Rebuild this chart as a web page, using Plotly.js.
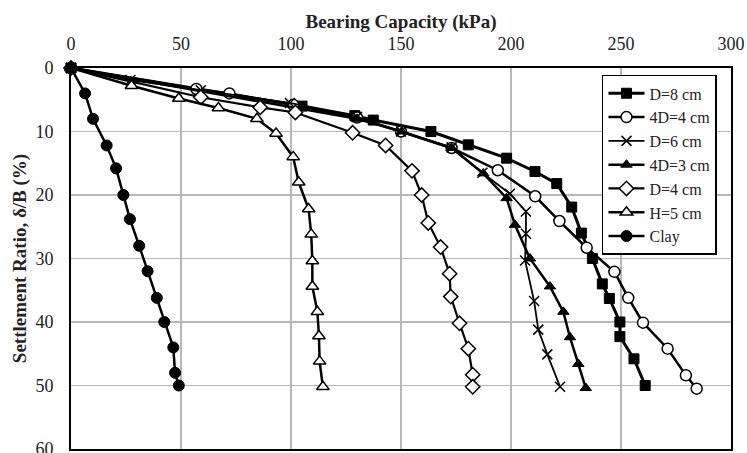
<!DOCTYPE html>
<html>
<head>
<meta charset="utf-8">
<script src="https://cdn.plot.ly/plotly-3.0.1.min.js"></script>
<style>html,body{margin:0;padding:0;background:#fff;}#chart{width:747px;height:453px;}</style>
</head>
<body>
<div id="chart"></div>
<script>
// Bearing capacity (kPa) vs settlement ratio (%)
const d8_x  = [0,105,129,137.4,163.6,180.6,198,210.9,220.8,227.6,232,237,241.5,244.7,249.5,249.5,255.9,261];
const d8_y  = [0,6,7.5,8.2,10,12.1,14.2,16.3,18.2,21.9,26,30,34,36.3,40,42.3,45.8,50];

const d4d4_x = [0,57,72,101,130,150,173,194,211,222,234.4,247,253.3,260,271.2,279.5,284.4];
const d4d4_y = [0,3.3,4,5.8,7.8,10,12.6,16.1,20.2,24.1,28.3,32.1,36.2,40.1,44.2,48.4,50.5];

const d6_x  = [0,27,59,99.5,130,150,173,187,199.5,206.8,206.8,206.4,210.5,212.4,216.5,222.3];
const d6_y  = [0,1.9,3.5,5.5,7.7,10,12.5,16.5,19.8,22.6,26.1,30.3,36.7,41.2,45.1,50.2];

const d4d3_x = [0,130,150.3,173,187.4,198,201.8,208.6,217.7,223.8,226.8,230.6,234];
const d4d3_y = [0,8,10,12.6,16.6,20.5,24.7,30,34.4,38.4,42.4,46.6,50.4];

const d4_x  = [0,59,86,102,128,143,155,159.4,162.4,168,172.1,172.6,176.6,180.6,182.6,182.6];
const d4_y  = [0,4.6,6.2,7,10.2,12.2,16.2,20,24.4,28.2,32.4,36,40.2,44.2,48.3,50.2];

const h5_x  = [0,27.5,49,67,84.5,93.2,101,103.5,108,109.2,109.7,109.7,112,112.7,113,114.5];
const h5_y  = [0,2.8,4.8,6.3,8,10.3,14,18,22.2,26.2,30.4,34.4,38.4,42.2,46.2,50.2];

const clay_x = [0,6.4,10,16.2,20.5,23.8,26.8,31,34.8,39,42.4,46.5,47.3,49];
const clay_y = [0,4,8,12.2,15.8,20,23.8,28,32,36.2,40,44,48,50];

const names = ['D=8 cm','4D=4 cm','D=6 cm','4D=3 cm','D=4 cm','H=5 cm','Clay'];
const xs = [d8_x, d4d4_x, d6_x, d4d3_x, d4_x, h5_x, clay_x];
const ys = [d8_y, d4d4_y, d6_y, d4d3_y, d4_y, h5_y, clay_y];
const markers = [
  {symbol:'square', size:10, color:'#000', line:{color:'#000', width:1}},
  {symbol:'circle', size:11, color:'#fff', line:{color:'#000', width:1.5}},
  {symbol:'x-thin', size:10, color:'#000', line:{color:'#000', width:1.5}},
  {symbol:'triangle-up', size:10, color:'#000', line:{color:'#000', width:1}},
  {symbol:'diamond', size:11, color:'#fff', line:{color:'#000', width:1.5}},
  {symbol:'triangle-up', size:11, color:'#fff', line:{color:'#000', width:1.5}},
  {symbol:'circle', size:11, color:'#000', line:{color:'#000', width:1}}
];
const widths = [3, 2.5, 1.8, 2.5, 2.2, 2.5, 2.5];

const traces = names.map((n,i)=>({
  x: xs[i], y: ys[i], name: n, type:'scatter', mode:'lines+markers',
  line:{color:'#000', width:widths[i]}, marker: markers[i], cliponaxis:false
}));

const fam = '"Liberation Serif", "Times New Roman", serif';

const layout = {
  width:747, height:453,
  margin:{l:71, r:16, t:68, b:4},
  paper_bgcolor:'#fff', plot_bgcolor:'#fff',
  font:{family:fam, size:18, color:'#222'},
  showlegend:true,
  legend:{x:0.8045, y:0.982, xanchor:'left', yanchor:'top',
          bgcolor:'#fff', bordercolor:'#000', borderwidth:1.5, itemwidth:36,
          font:{family:fam, size:16, color:'#222'}, tracegroupgap:0},
  xaxis:{side:'top', range:[0,300], dtick:50, tick0:0,
         showgrid:true, gridcolor:'#b8b8b8', gridwidth:1.5, zeroline:false,
         showline:true, linecolor:'#000', linewidth:2, mirror:true, ticks:'',
         ticklabelstandoff:9, ticklabeloverflow:'allow',
         tickfont:{family:fam, size:18, color:'#222'},
         title:{text:'<b>Bearing Capacity (kPa)</b>', font:{family:fam, size:19, color:'#222'}, standoff:0}},
  yaxis:{range:[60,0], dtick:10, tick0:0,
         showgrid:true, gridcolor:'#b8b8b8', gridwidth:1.5, zeroline:false,
         showline:true, linecolor:'#000', linewidth:2, mirror:true, ticks:'',
         ticklabelstandoff:12, ticklabeloverflow:'allow',
         tickfont:{family:fam, size:18, color:'#222'},
         title:{text:'<b>Settlement Ratio, δ/B (%)</b>', font:{family:fam, size:19, color:'#222'}, standoff:4}}
};

Plotly.newPlot('chart', traces, layout, {displayModeBar:false, staticPlot:true});
</script>
</body>
</html>
